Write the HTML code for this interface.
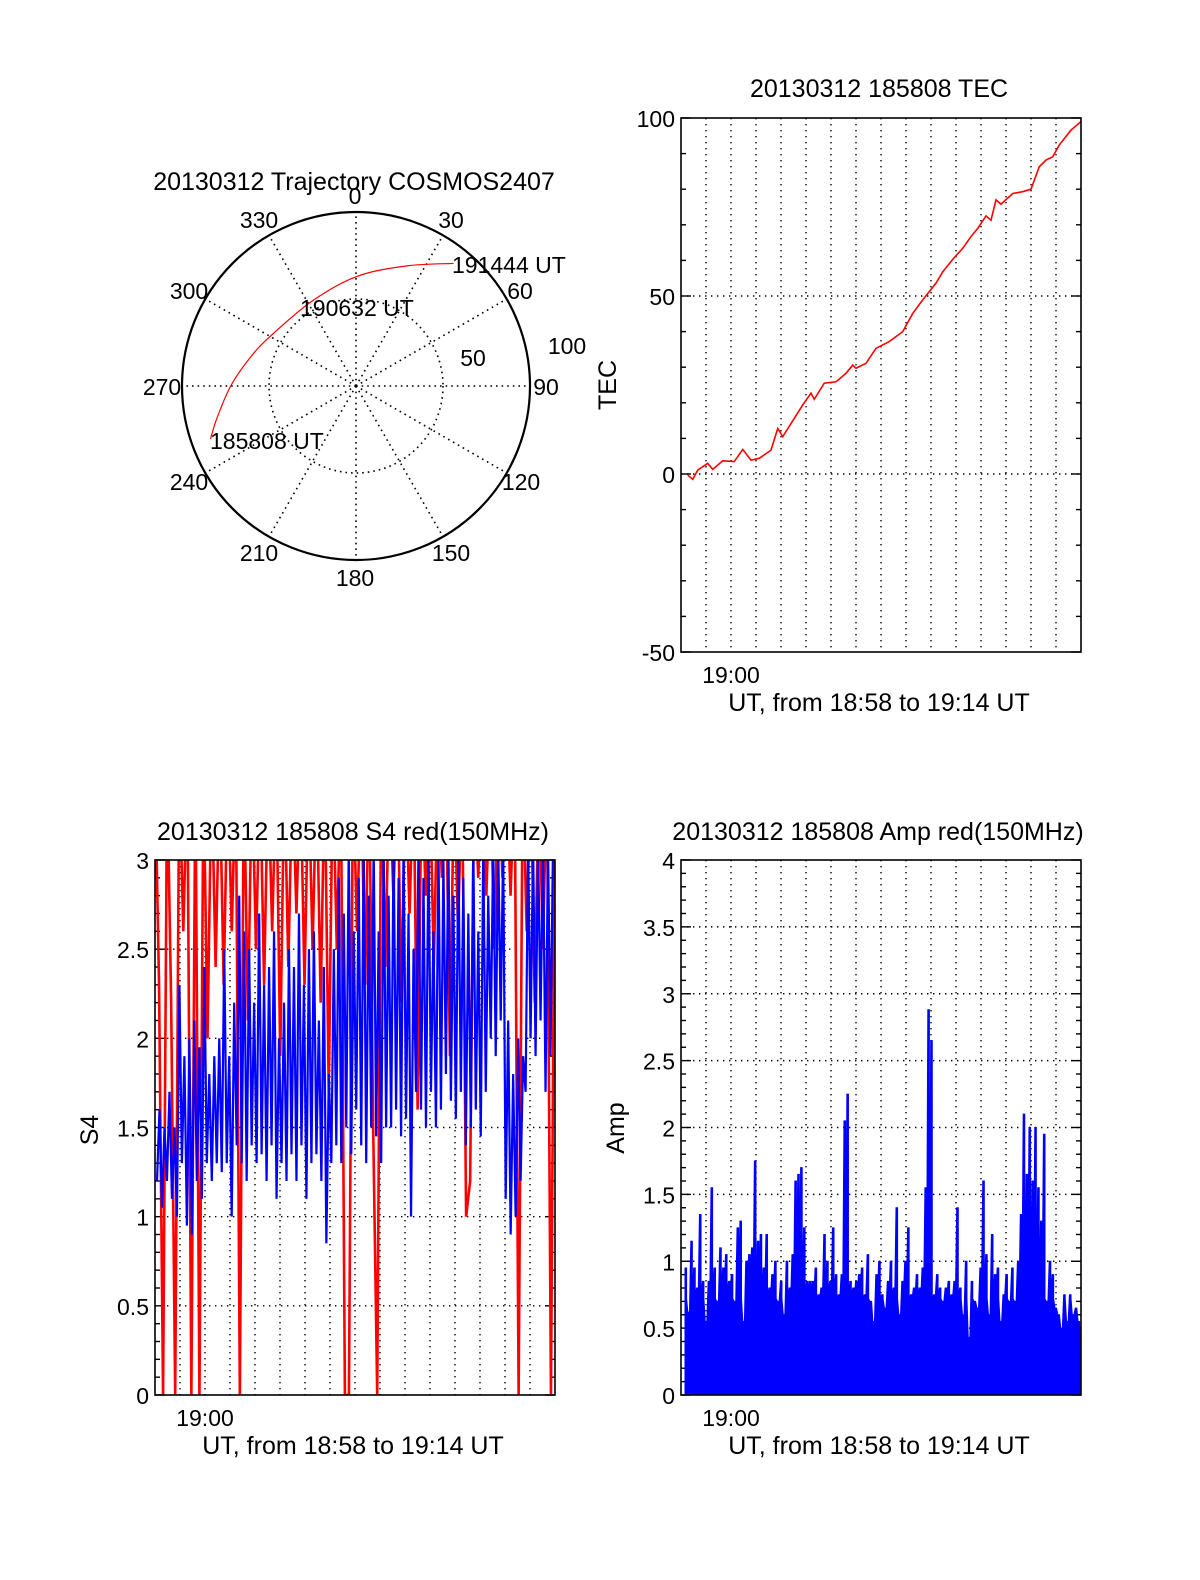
<!DOCTYPE html>
<html><head><meta charset="utf-8"><style>
html,body{margin:0;padding:0;background:#fff}
svg text{font-family:"Liberation Sans",Arial,sans-serif;fill:#000}
</style></head><body>
<svg id="fig" width="1200" height="1575" viewBox="0 0 1200 1575" xmlns="http://www.w3.org/2000/svg">
<defs>
<clipPath id="clipTec"><rect x="681" y="118" width="400" height="534"/></clipPath>
<clipPath id="clipS4"><rect x="155" y="860" width="400" height="535"/></clipPath>
<clipPath id="clipAmp"><rect x="681" y="860" width="400" height="535"/></clipPath>
</defs>
<rect width="1200" height="1575" fill="#fff"/>
<g id="polar"></g>
<g id="tec"></g>
<g id="s4"></g>
<g id="amp"></g>
</svg>
<script>
// ---- data ----
const trajAz = [250, 257, 270, 285, 300, 333, 0.5, 23, 38.5];
const trajZen = [89, 82, 72, 63, 57, 55, 63, 75, 90];
const trajLabels = ["185808 UT", "190632 UT", "191444 UT"];
const polarAngleLabels = ["0","30","60","90","120","150","180","210","240","270","300","330"];

const tecT = [0.27,0.47,0.67,1.07,1.27,1.67,2.13,2.47,2.8,3.13,3.6,3.87,4.07,4.53,4.87,5.2,5.33,5.73,6.2,6.6,6.87,7.0,7.4,7.8,8.33,8.87,9.27,9.67,10.2,10.47,10.87,11.27,11.6,11.87,12.2,12.4,12.6,12.8,13.27,13.67,14.0,14.33,14.6,14.87,15.13,15.6,16.0];
const tecV = [-0.3,-1.5,1.1,3.0,1.3,3.7,3.5,6.9,3.9,4.4,6.7,12.8,10.5,15.6,19.4,22.7,21,25.5,25.9,28.3,30.6,29.7,31.1,35.3,37.2,40,45.1,48.9,53.6,56.8,60.3,63.4,66.7,69,72.5,71.3,77,75.8,78.8,79.3,80,86.3,88.2,89.1,92.4,96.6,99];
const tecTicks = [100, 50, 0, -50];

const s4Ticks = [0, 0.5, 1, 1.5, 2, 2.5, 3];
const s4Red = [3.5,2.3,0,3.5,2.2,0,3.5,2.6,3.5,0,3.5,0,3.5,2.0,3.5,2.4,3.5,2.3,3.5,2.6,3.5,0,3.5,2.1,3.5,2.5,3.5,2.3,3.5,2.6,3.5,1.9,3.5,2.4,3.5,2.7,3.5,2.3,3.5,2.5,3.5,2.2,3.5,1.7,3.5,2.5,3.5,0,0,3.5,2.6,3.5,2.3,3.5,1.5,0,3.5,2.4,3.5,2.8,3.5,2.2,3.5,2.7,3.5,1.6,3.5,2.8,3.5,2.4,3.5,2.9,3.5,1.9,3.5,2.6,3.5,1.0,1.2,3.5,2.9,3.5,2.8,3.5,2.5,3.5,2.9,3.5,2.8,3.5,0,3.5,2.6,3.5,2.2,3.5,2.5,3.5,0,3.5];
const s4Blue = [1.2,1.6,1.05,1.5,1.2,1.7,1.1,1.5,
1.0,2.3,1.3,1.9,0.95,2.0,0.9,2.1,1.2,1.95,1.1,2.4,
1.3,1.8,1.2,1.9,1.3,2.0,1.25,2.5,1.3,1.9,1.0,2.2,
1.4,2.8,1.3,2.6,1.2,2.5,1.4,2.2,1.3,2.7,1.35,2.3,
1.2,2.4,1.4,2.6,1.1,2.0,1.3,2.2,1.2,2.5,1.35,2.4,1.2,2.7,1.4,2.3,1.1,2.5,1.3,2.6,1.35,2.1,1.2,2.4,
0.85,1.8,1.3,2.5,
1.4,2.9,1.3,2.7,1.5,3.1,1.35,2.6,1.6,2.9,1.4,3.1,1.3,2.8,1.5,3.1,1.45,2.6,1.3,3.1,1.5,2.8,
1.5,3.1,1.6,2.9,1.45,3.1,1.55,2.7,1.0,2.5,
1.7,3.1,1.6,2.9,1.5,3.1,1.7,2.6,1.5,3.1,1.6,3.0,1.8,3.1,1.65,2.8,1.55,3.1,1.7,2.9,
1.4,2.7,1.5,3.1,1.6,2.6,1.45,3.1,1.7,2.8,
2.0,3.1,1.9,3.1,2.1,3.1,
1.1,2.1,0.9,1.8,1.0,2.0,1.2,1.9,
1.7,3.1,2.0,3.1,1.9,3.1,2.1,3.1,1.7,3.1,1.9,3.1];

const ampTicks = [0,0.5,1,1.5,2,2.5,3,3.5,4];
const ampV = [0.95,0.62,1.15,0.95,0.8,1.35,0.85,0.55,0.85,1.55,0.95,0.7,1.1,0.95,1.05,0.85,0.9,0.7,1.25,1.3,
0.55,1.0,1.05,1.1,1.75,1.15,1.2,0.95,1.2,0.8,0.9,1.0,0.7,0.85,0.6,1.0,0.8,1.05,1.6,1.65,
1.7,1.25,0.85,0.85,0.85,0.95,0.75,0.8,1.2,1.0,0.85,1.25,0.9,0.75,0.9,2.05,2.25,0.85,0.8,0.85,
0.9,0.95,0.75,1.05,0.7,0.55,0.9,1.0,0.75,0.65,0.85,1.0,0.8,1.4,0.6,0.85,1.0,1.25,0.75,0.8,
0.9,0.8,0.95,1.55,2.88,2.65,0.75,0.9,0.8,0.7,0.8,0.85,0.75,0.85,1.4,0.8,0.6,1.0,0.43,0.85,
0.7,0.65,0.95,1.6,1.05,0.6,1.2,0.9,0.95,0.55,0.75,0.9,0.7,0.95,0.7,1.0,1.35,2.1,1.65,2.0,
1.6,2.0,1.55,1.3,1.95,0.7,1.0,0.9,0.65,0.6,0.5,0.75,0.55,0.75,0.6,0.65,0.55];

// ---- helpers ----
const NS = "http://www.w3.org/2000/svg";
function mk(tag, parent, attrs){
  const e = document.createElementNS(NS, tag);
  for (const k in attrs) e.setAttribute(k, attrs[k]);
  parent.appendChild(e);
  return e;
}
function txt(parent, x, y, s, anchor, size, name, rot){
  const t = mk("text", parent, {x:x, y:y, "text-anchor":anchor, "font-size":size});
  if (rot) t.setAttribute("transform", "rotate(-90 "+x+" "+y+")");
  t.textContent = s;
  
  
  return t;
}

// ---- polar ----
(function(){
  const g = document.getElementById("polar");
  const cx = 356, cy = 386, R = 174, zmax = 100;
  const rr = z => z / zmax * R;
  const px = (az, z) => cx + rr(z) * Math.sin(az * Math.PI/180);
  const py = (az, z) => cy - rr(z) * Math.cos(az * Math.PI/180);
  for (let a = 0; a < 360; a += 30) {
    const l = mk("line", g, {x1:cx, y1:cy, x2:px(a,zmax), y2:py(a,zmax), stroke:"#000", "stroke-width":1.6, "stroke-dasharray":"1.6 4"});
    
    
  }
  const inner = mk("circle", g, {cx:cx, cy:cy, r:rr(50), fill:"none", stroke:"#000", "stroke-width":1.6, "stroke-dasharray":"1.6 4"});
  
  
  const outer = mk("circle", g, {cx:cx, cy:cy, r:R, fill:"none", stroke:"#000", "stroke-width":2.2});
  
  
  const lp = [[355,204],[451,228],[520,299],[546,395],[521,490],[451,561],[355,586],[259,561],[189,490],[162,395],[189,299],[259,228]];
  polarAngleLabels.forEach((s,i) => txt(g, lp[i][0], lp[i][1], s, "middle", 23, "azimuth-label-"+s));
  txt(g, 567, 354, "100", "middle", 23, "zenith-label-100");
  txt(g, 473, 366, "50", "middle", 23, "zenith-label-50");
  const pts = trajAz.map((a,i) => [px(a, trajZen[i]), py(a, trajZen[i])]);
  let d = "M" + pts[0][0] + "," + pts[0][1];
  for (let i = 0; i < pts.length - 1; i++) {
    const p0 = pts[Math.max(0,i-1)], p1 = pts[i], p2 = pts[i+1], p3 = pts[Math.min(pts.length-1,i+2)];
    d += " C" + (p1[0]+(p2[0]-p0[0])/6) + "," + (p1[1]+(p2[1]-p0[1])/6) + " " + (p2[0]-(p3[0]-p1[0])/6) + "," + (p2[1]-(p3[1]-p1[1])/6) + " " + p2[0] + "," + p2[1];
  }
  const tr = mk("path", g, {d:d, fill:"none", stroke:"#f00", "stroke-width":1.2});
  
  
  txt(g, 210, 449, trajLabels[0], "start", 23, "start-time-label");
  txt(g, 300, 316, trajLabels[1], "start", 23, "mid-time-label");
  txt(g, 452, 273, trajLabels[2], "start", 23, "end-time-label");
  txt(g, 354, 190, "20130312 Trajectory COSMOS2407", "middle", 25, "polar-title");
})();

// ---- generic time-series frame ----
function frame(g, x0, y0, w, h, ymin, ymax, ticks, minorStep, gridVals, tickFmt, prefix){
  const sx = t => x0 + t / 16 * w;
  const sy = v => y0 + h - (v - ymin) / (ymax - ymin) * h;
  for (let m = 1; m < 16; m++) {
    const l = mk("line", g, {x1:sx(m), y1:y0, x2:sx(m), y2:y0+h, stroke:"#000", "stroke-width":1.4, "stroke-dasharray":"1.4 4.6"});
    
    
  }
  gridVals.forEach(v => {
    const l = mk("line", g, {x1:x0, y1:sy(v), x2:x0+w, y2:sy(v), stroke:"#000", "stroke-width":1.4, "stroke-dasharray":"1.4 4.6"});
    
    
  });
  const majStep = Math.abs(ticks[1]-ticks[0]);
  const nMin = Math.round((ymax - ymin) / minorStep);
  for (let i = 0; i <= nMin; i++) {
    const v = ymin + i * minorStep, y = sy(v);
    const q = (v - ymin) / majStep;
    const len = Math.abs(q - Math.round(q)) < 1e-6 ? 10 : 5;
    const a = mk("line", g, {x1:x0, y1:y, x2:x0+len, y2:y, stroke:"#000", "stroke-width":1.4});
    
    
    const b = mk("line", g, {x1:x0+w-len, y1:y, x2:x0+w, y2:y, stroke:"#000", "stroke-width":1.4});
    
    
  }
  ticks.forEach(v => txt(g, x0 - 6, sy(v) + 9, tickFmt(v), "end", 23, prefix+"-y-tick-label"));
  txt(g, sx(2), y0 + h + 31, "19:00", "middle", 23, prefix+"-x-tick-label");
  txt(g, x0 + w/2 - 2, y0 + h + 59, "UT, from 18:58 to 19:14 UT", "middle", 25, prefix+"-x-axis-title");
  return {sx, sy};
}
function border(g, x0, y0, w, h, prefix){
  const r = mk("rect", g, {x:x0, y:y0, width:w, height:h, fill:"none", stroke:"#000", "stroke-width":1.6});
  
  
}

// ---- TEC ----
(function(){
  const g = document.getElementById("tec");
  const f = frame(g, 681, 118, 400, 534, -50, 100, tecTicks, 10, [50, 0], v => String(v), "tec");
  const d = tecT.map((t,i) => (i ? "L" : "M") + f.sx(t) + "," + f.sy(tecV[i])).join(" ");
  const p = mk("path", g, {d:d, fill:"none", stroke:"#f00", "stroke-width":1.6, "clip-path":"url(#clipTec)"});
  
  
  border(g, 681, 118, 400, 534, "tec");
  txt(g, 879, 97, "20130312 185808 TEC", "middle", 25, "tec-title");
  txt(g, 616, 385, "TEC", "middle", 25, "tec-y-axis-title", true);
})();

// ---- S4 ----
(function(){
  const g = document.getElementById("s4");
  const f = frame(g, 155, 860, 400, 535, 0, 3, s4Ticks, 0.1, [0.5,1,1.5,2,2.5], v => String(v), "s4");
  const xr = i => 155 + i * 400 / (s4Red.length - 1);
  const dr = s4Red.map((v,i) => (i ? "L" : "M") + xr(i) + "," + f.sy(v)).join(" ");
  const pr = mk("path", g, {d:dr, fill:"none", stroke:"#f00", "stroke-width":2.6, "clip-path":"url(#clipS4)"});
  
  
  const xb = i => 157 + i * 396 / (s4Blue.length - 1);
  const db = s4Blue.map((v,i) => (i ? "L" : "M") + xb(i) + "," + f.sy(v)).join(" ");
  const pb = mk("path", g, {d:db, fill:"none", stroke:"#00f", "stroke-width":2.2, "clip-path":"url(#clipS4)"});
  
  
  border(g, 155, 860, 400, 535, "s4");
  txt(g, 353, 840, "20130312 185808 S4 red(150MHz)", "middle", 25, "s4-title");
  txt(g, 98, 1130, "S4", "middle", 25, "s4-y-axis-title", true);
})();

// ---- Amp ----
(function(){
  const g = document.getElementById("amp");
  const f = frame(g, 681, 860, 400, 535, 0, 4, ampTicks, 0.1, [0.5,1,1.5,2,2.5,3,3.5], v => String(v), "amp");
  const x0 = 685, step = (1081 - x0) / ampV.length;
  let d = "M" + x0 + "," + f.sy(0);
  ampV.forEach((v,i) => { const y = f.sy(v); d += " L" + (x0 + i*step) + "," + y + " L" + (x0 + (i+0.55)*step) + "," + y + " L" + (x0 + (i+0.55)*step) + "," + f.sy(Math.min(v, 0.72)); });
  d += " L1081," + f.sy(0) + " Z";
  const p = mk("path", g, {d:d, fill:"#00f", stroke:"#00f", "stroke-width":1, "clip-path":"url(#clipAmp)"});
  
  
  border(g, 681, 860, 400, 535, "amp");
  txt(g, 878, 840, "20130312 185808 Amp red(150MHz)", "middle", 25, "amp-title");
  txt(g, 624, 1128, "Amp", "middle", 25, "amp-y-axis-title", true);
})();
</script>
</body></html>
